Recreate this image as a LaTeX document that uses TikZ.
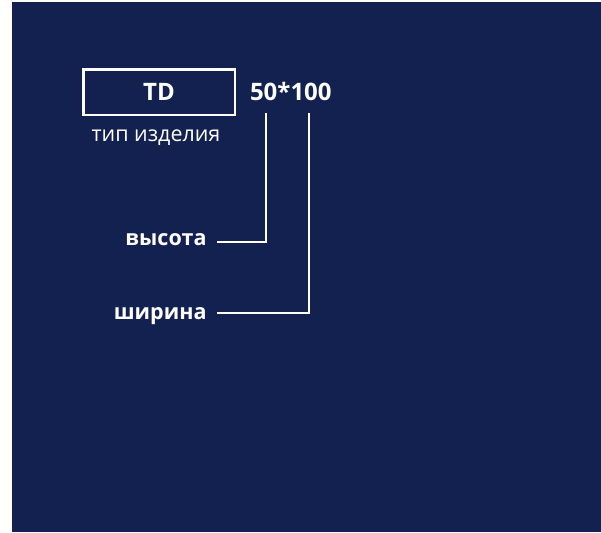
\documentclass[tikz,border=0pt]{standalone}
\usepackage{fontspec}
\setmainfont{Open Sans}
\usetikzlibrary{positioning}
\definecolor{navy}{RGB}{19,33,80}

\begin{document}
\begin{tikzpicture}[x=1pt,y=-1pt]
\tikzset{lbl/.style={text=white,font=\bfseries\fontsize{24}{28}\selectfont},
  word/.style={text=white,font=\bfseries\fontsize{21.5}{26}\selectfont,inner xsep=10pt},
  lead/.style={white,line width=2pt}}
\useasboundingbox (0,0) rectangle (601,532);
\fill[navy] (12,2) rectangle (601,532);

\node[lbl,draw=white,line width=2.5pt,minimum width=151.5pt,minimum height=45.3pt] (type) at (159,92.1) {TD};
\node[text=white,font=\fontsize{21.5}{26}\selectfont,anchor=base] (typename) at (156,141.7) {тип изделия};
\node[lbl,anchor=base west] (size) at (246.5,100.7) {50*100};

\coordinate (htop) at (266,113.3);
\coordinate (hbend) at (266,241.7);
\coordinate (wtop) at (309.3,113.3);
\coordinate (wbend) at (309.3,312.7);
\node[word,anchor=base east] (height) at (216.7,245.7) {высота};
\node[word,anchor=base east] (width) at (216.7,319) {ширина};

\draw[lead] (htop)--(hbend)--(height.east |- hbend);
\draw[lead] (wtop)--(wbend)--(width.east |- wbend);
\end{tikzpicture}
\end{document}
